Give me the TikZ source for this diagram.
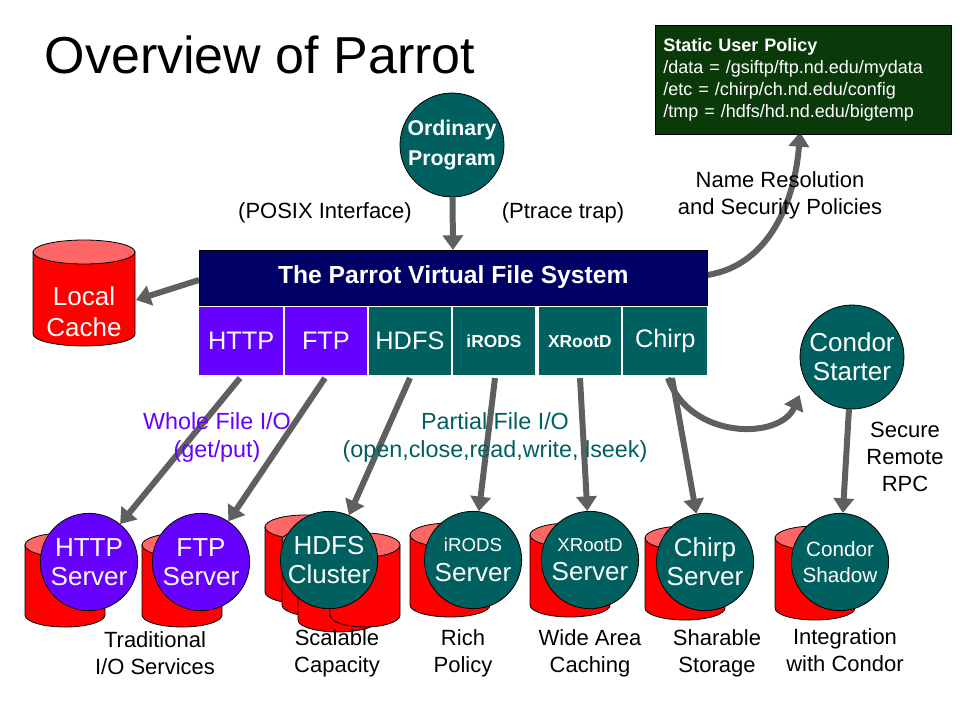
\documentclass[tikz,border=0pt]{standalone}
\usepackage{fontspec}
\setmainfont{Liberation Sans}
\usetikzlibrary{arrows.meta}
\pgfdeclarelayer{bg}
\pgfsetlayers{bg,main}
\definecolor{pur}{HTML}{6600FF}
\definecolor{tl}{HTML}{005F5F}
\definecolor{navy}{HTML}{000066}
\definecolor{dg}{HTML}{0A3A0A}
\definecolor{ltred}{HTML}{FF6666}
\definecolor{ar}{HTML}{5F5F5F}
\newcommand{\mycyl}[4]{% cx, top-center y, width, height (px)
 \fill[red,draw=black,line width=0.6pt] ({#1-#3/2},#2) -- ({#1-#3/2},{#2+#4}) arc[start angle=180,end angle=360,x radius={#3/2*0.75pt},y radius=9pt] -- ({#1+#3/2},#2) -- cycle;
 \fill[ltred,draw=black,line width=0.6pt] (#1,#2) ellipse[x radius={#3/2*0.75pt},y radius=9pt];}
\begin{document}
\begin{tikzpicture}[x=0.75pt,y=-0.75pt,
 circ/.style={circle,draw=black,line width=0.6pt,text=white,align=center,minimum size=78pt,inner sep=0pt,font=\fontsize{19.5}{22}\selectfont},
 mod/.style={text=white,minimum height=51pt,inner sep=0pt,font=\fontsize{19}{20}\selectfont,anchor=north west},
 arr/.style={ar,line width=4.5pt,-{Triangle[length=11pt,width=15pt]}},
 lab/.style={align=center,font=\fontsize{16.5}{20}\selectfont}]
\useasboundingbox (0,0) rectangle (960,720);
\node[anchor=west,font=\fontsize{39}{44}\selectfont] (title) at (40,55) {Overview of Parrot};
\node[fill=dg,draw=black,anchor=north west,minimum width=217pt,minimum height=82pt,text width=210pt,align=left,text=white,font=\fontsize{13.5}{16.5}\selectfont,inner sep=6pt] (pol) at (655,25) {\textbf{Static User Policy}\\/data = /gsiftp/ftp.nd.edu/mydata\\/etc = /chirp/ch.nd.edu/config\\/tmp = /hdfs/hd.nd.edu/bigtemp};
\node[circ,fill=tl,font=\bfseries\fontsize{16}{22}\selectfont] (op) at (452,145) {Ordinary\\Program};
\node[lab] (posix) at (325,213) {(POSIX Interface)};
\node[lab] (ptr) at (563,213) {(Ptrace trap)};
\node[fill=navy,draw=black,anchor=north west,minimum width=381pt,minimum height=41pt,inner sep=0pt,text=white,font=\bfseries\fontsize{18.5}{20}\selectfont] (vfs) at (199,250) {The Parrot Virtual File System};
\node[mod,fill=pur,minimum width=63pt] (mhttp) at (199,307) {HTTP};
\node[mod,fill=pur,minimum width=61pt] (mftp) at (285,307) {FTP};
\node[mod,fill=tl,minimum width=61pt] (mhdfs) at (369,307) {HDFS};
\node[mod,fill=tl,minimum width=61pt,font=\bfseries\fontsize{13}{14}\selectfont] (mirods) at (453,307) {iRODS};
\node[mod,fill=tl,minimum width=61pt,font=\bfseries\fontsize{13}{14}\selectfont] (mxr) at (539,307) {XRootD};
\node[mod,fill=tl,minimum width=63pt] (mchirp) at (623,307) {Chirp};
\mycyl{84}{252}{102}{82}
\node[text=white,align=center,font=\fontsize{19.5}{23}\selectfont] (lc) at (84,312) {Local\\Cache};
\node[circ,fill=tl] (cs) at (852,357) {Condor\\Starter};
\node[lab] (nr) at (780,195) {Name Resolution\\and Security Policies};
\node[lab] (srr) at (905,457) {Secure\\Remote\\RPC};
\node[lab,text=pur,font=\fontsize{17.5}{21}\selectfont] (wf) at (217,437) {Whole File I/O\\(get/put)};
\node[lab,text=tl,font=\fontsize{17.5}{21}\selectfont] (pf) at (495,437) {Partial File I/O\\(open,close,read,write, lseek)};
% bottom cylinders
\mycyl{65}{545}{80}{70}
\mycyl{182}{545}{80}{70}
\mycyl{305}{527}{80}{65}
\mycyl{322}{540}{80}{65}
\mycyl{338}{555}{80}{65}
\mycyl{365}{545}{70}{70}
\mycyl{450}{535}{80}{70}
\mycyl{570}{535}{80}{70}
\mycyl{685}{538}{80}{70}
\mycyl{815}{538}{80}{70}
\node[circ,fill=pur,minimum size=73pt] (hs) at (89,562) {HTTP\\Server};
\node[circ,fill=pur,minimum size=73pt] (fs) at (201,562) {FTP\\Server};
\node[circ,fill=tl,minimum size=73pt] (hc) at (329,560) {HDFS\\Cluster};
\node[circ,fill=tl,minimum size=73pt] (is) at (473,560) {\fontsize{14}{20}\selectfont iRODS\\Server};
\node[circ,fill=tl,minimum size=73pt] (xs) at (590,560) {\fontsize{14}{20}\selectfont XRootD\\Server};
\node[circ,fill=tl,minimum size=73pt] (chs) at (705,562) {Chirp\\Server};
\node[circ,fill=tl,minimum size=73pt,font=\fontsize{15.5}{20}\selectfont] (csh) at (840,562) {Condor\\Shadow};
\node[lab] at (155,653) {Traditional\\I/O Services};
\node[lab] at (337,653) {Scalable\\Capacity};
\node[lab] at (463,653) {Rich\\Policy};
\node[lab] at (590,653) {Wide Area\\Caching};
\node[lab] at (717,653) {Sharable\\Storage};
\node[lab] at (845,650) {Integration\\with Condor};
% arrows
\begin{pgfonlayer}{bg}
\draw[arr] (op) -- (vfs);
\draw[arr] (vfs.west|-0,280) -- (136,300);
\draw[arr] (vfs.east|-0,275) .. controls (770,265) and (795,200) .. (800,132);
\draw[arr] (668,378) .. controls (690,440) and (780,440) .. (cs.west|-0,395);
\draw[arr] (cs) -- (csh);
\draw[arr] (240,378) -- (hs);
\draw[arr] (325,378) -- (fs);
\draw[arr] (410,378) -- (hc);
\draw[arr] (495,378) -- (is);
\draw[arr] (580,378) -- (xs);
\draw[arr] (672,378) -- (chs);
\end{pgfonlayer}
\end{tikzpicture}
\end{document}
